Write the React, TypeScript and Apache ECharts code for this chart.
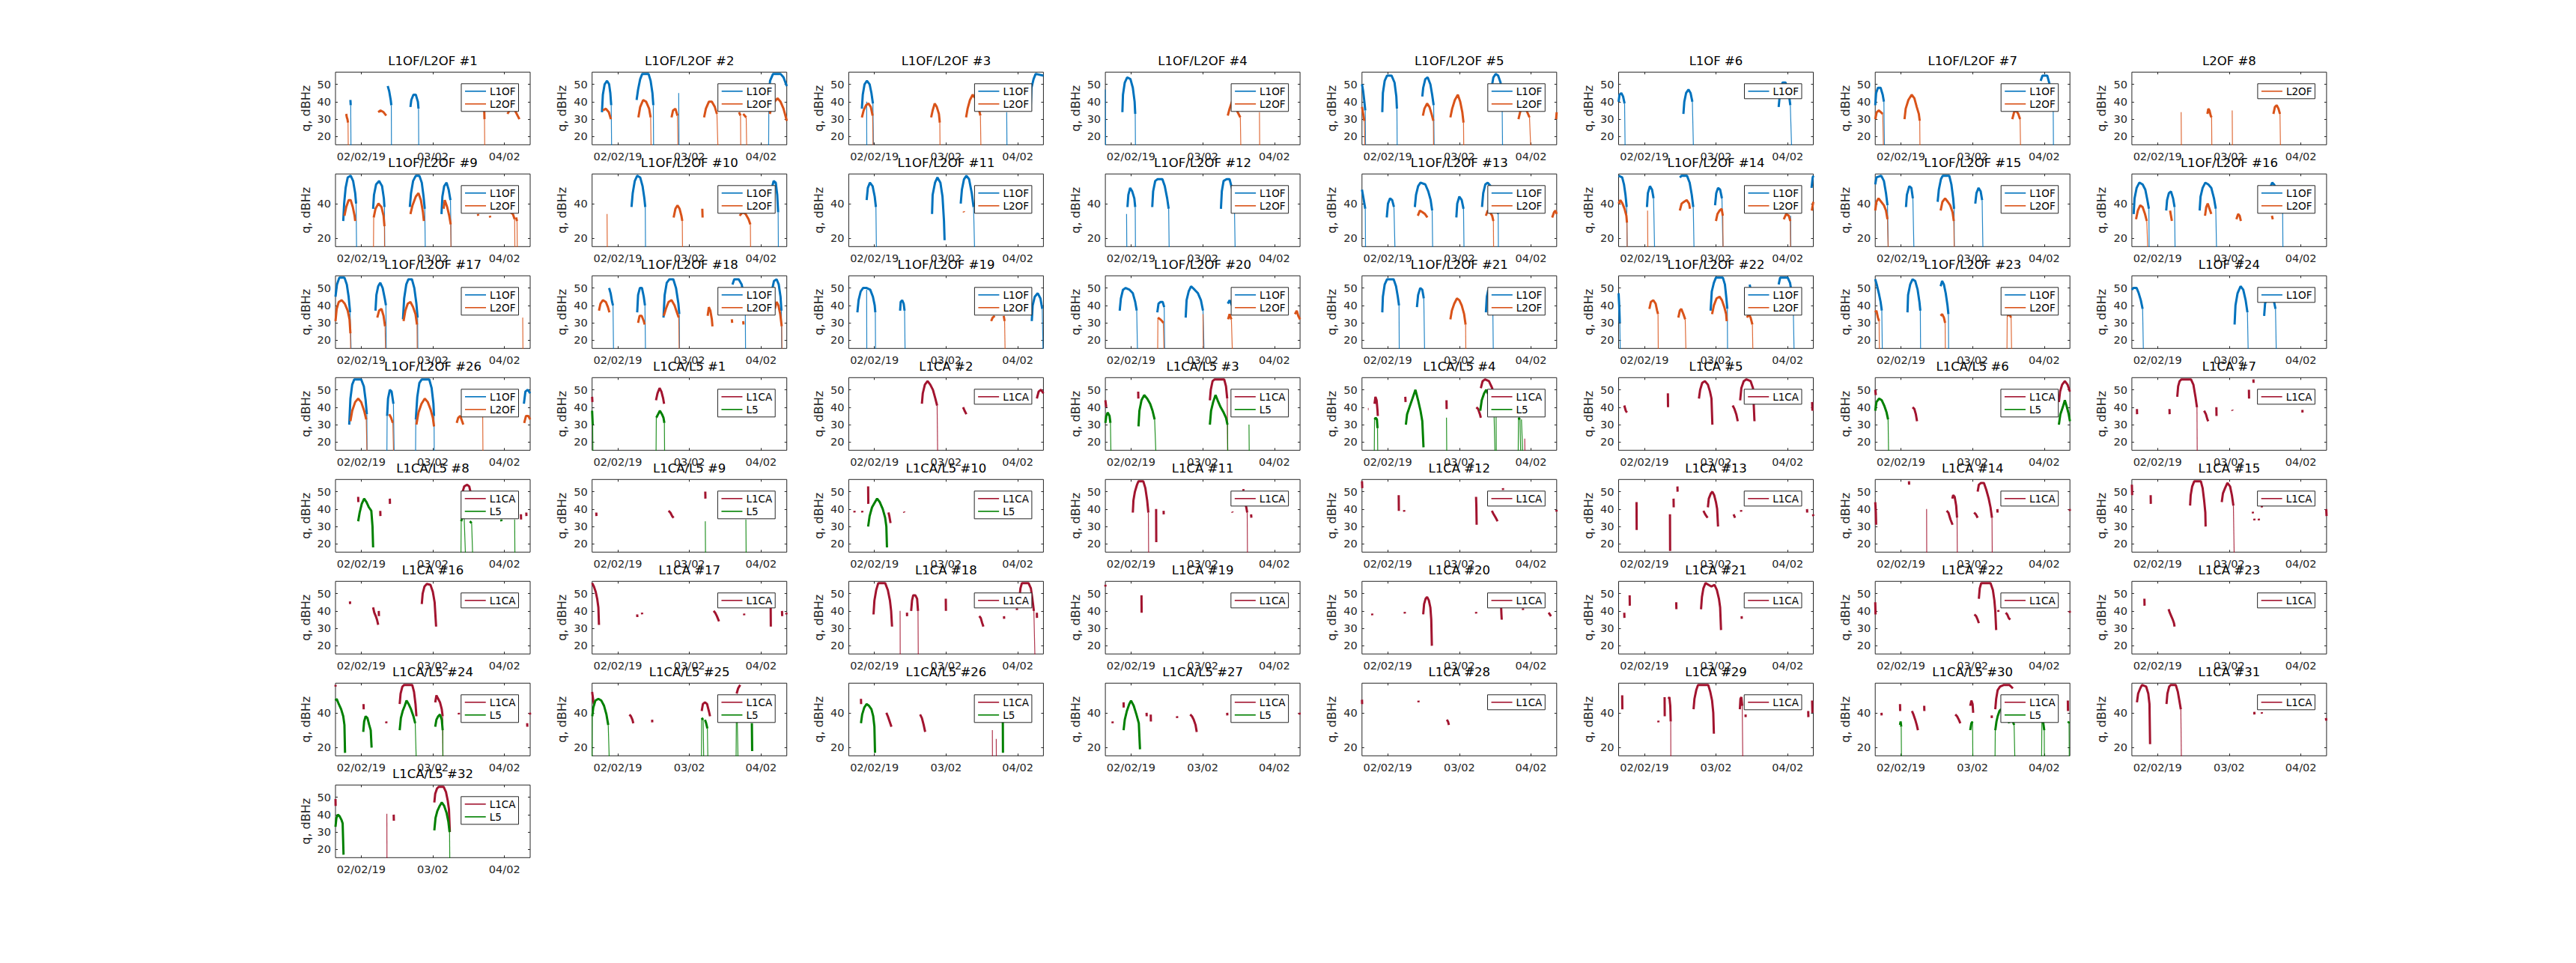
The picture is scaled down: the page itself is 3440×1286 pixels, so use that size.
import React, { useEffect, useRef } from 'react';
import * as echarts from 'echarts';

type Pt = [number, number];
type Seg = Pt[];

// ---------- axes (hours relative to 02/02/19 00:00, dBHz) ----------
const X_MIN = -8.6;
const X_MAX = 56.6;
const X_TICKS = [0, 24, 48];
const X_LABELS = ['02/02/19', '03/02', '04/02'];
const Y_MIN = 15.3;
const Y_MAX = 57;
const Y_TICKS_A = [20, 30, 40, 50];
const Y_TICKS_B = [20, 40];

// ---------- GLONASS ----------
const R1_L1: Seg[] = [
  [[-3.6, 41], [-3.5, 38], [-3.4, 10]],
  [[8.9, 49], [9.4, 46], [9.9, 41], [10.1, 38], [10.15, 10]],
  [[16.5, 37], [16.8, 41], [17.5, 44], [18.3, 44], [19.0, 40], [19.2, 36], [19.3, 10]],
];
const R1_L2: Seg[] = [
  [[-5.0, 33], [-4.8, 31], [-4.6, 30], [-4.4, 28], [-4.3, 10]],
  [[5.7, 34], [6.5, 35], [7.5, 34], [8.4, 32]],
  [[41.2, 36], [41.3, 30], [41.4, 10]],
  [[49.0, 33], [50, 36], [51.5, 35], [53.0, 30]],
];
const R2_L1: Seg[] = [
  [[-5.3, 34], [-5.0, 44], [-4.4, 50], [-3.6, 52], [-2.9, 50], [-2.5, 45], [-2.2, 38], [-2.05, 10]],
  [[6.3, 41], [6.8, 47], [7.5, 53], [8.2, 56], [10.3, 56], [11.0, 52], [11.6, 45], [11.9, 38], [12.0, 10]],
  [[20.4, 45], [20.5, 10]],
  [[50.5, 10], [50.6, 44], [51.0, 52], [52.0, 56], [54.5, 56], [55.5, 54], [56.6, 49]],
];
const R2_L2: Seg[] = [
  [[-5.0, 35], [-4.0, 36], [-3.0, 34], [-2.3, 30]],
  [[6.9, 31], [7.5, 37], [8.5, 41], [9.5, 40], [10.5, 36], [11.0, 31], [11.2, 10]],
  [[18.0, 31], [18.5, 35], [19.3, 36], [20.0, 32], [20.2, 10]],
  [[28.9, 31], [29.5, 36], [30.5, 40], [31.5, 40], [32.5, 37], [33.2, 33], [33.6, 10]],
  [[40.6, 34], [41.1, 32], [41.2, 10]],
  [[42.0, 33], [43.0, 31], [43.2, 10]],
  [[50.9, 33], [51.5, 37], [52.5, 40], [53.5, 42], [54.5, 40], [55.5, 36], [56.3, 31], [56.6, 29]],
];
const R3_L1: Seg[] = [
  [[-4.2, 36], [-3.9, 44], [-3.3, 50], [-2.5, 52], [-1.6, 50], [-1.0, 45], [-0.5, 39], [-0.3, 10]],
  [[-2.6, 40], [-2.55, 10]],
  [[44.3, 34], [44.4, 10]],
  [[52.3, 35], [52.6, 48], [53.3, 53], [54.0, 56], [56.6, 55]],
];
const R3_L2: Seg[] = [
  [[-4.2, 31], [-3.6, 35], [-2.8, 38], [-2.0, 39], [-1.2, 37], [-0.6, 32], [-0.4, 10]],
  [[19.0, 31], [19.5, 35], [20.2, 39], [20.9, 37], [21.6, 33], [21.9, 28], [22.0, 10]],
  [[30.7, 31], [31.2, 36], [32.0, 41], [32.9, 44], [33.8, 42], [34.8, 37], [35.5, 32], [35.7, 10]],
];
const R4_L1: Seg[] = [
  [[-8.6, 47], [-8.5, 10]],
  [[-2.9, 34], [-2.7, 44], [-2.1, 51], [-1.3, 54], [-0.2, 53], [0.6, 48], [1.2, 40], [1.4, 33], [1.5, 10]],
];
const R4_L2: Seg[] = [
  [[32.4, 32], [33.0, 36], [33.8, 40], [34.8, 38], [35.7, 34], [36.6, 31], [36.8, 10]],
  [[43.0, 34], [43.1, 10]],
];
const R5_L1: Seg[] = [
  [[-8.6, 50], [-8.2, 46], [-7.8, 40], [-7.5, 35], [-7.4, 10]],
  [[-1.8, 34], [-1.6, 45], [-1.0, 52], [-0.2, 55], [1.3, 55], [2.3, 51], [2.9, 43], [3.1, 36], [3.2, 10]],
  [[11.6, 43], [11.9, 48], [12.6, 53], [13.4, 54], [14.3, 50], [14.9, 44], [15.4, 38], [15.6, 10]],
  [[34.9, 49], [35.4, 54], [36.2, 56], [37.0, 55], [37.8, 51], [38.3, 45], [38.5, 10]],
];
const R5_L2: Seg[] = [
  [[-8.6, 37], [-8.2, 33], [-7.8, 29], [-7.6, 10]],
  [[11.8, 32], [12.3, 36], [13.2, 39], [14.0, 37], [14.7, 33], [15.3, 29], [15.4, 10]],
  [[21.0, 31], [21.6, 36], [22.5, 41], [23.5, 44], [24.3, 40], [25.0, 34], [25.4, 28], [25.5, 10]],
  [[43.8, 30], [44.5, 35], [45.5, 36], [46.5, 35], [47.5, 31], [48.0, 10]],
  [[56.4, 30], [56.6, 34]],
];
const R6_L1: Seg[] = [
  [[-8.6, 40], [-8.3, 44], [-7.7, 45], [-7.1, 43], [-6.6, 39], [-6.4, 10]],
  [[13.1, 33], [13.4, 40], [14.0, 45], [14.8, 47], [15.5, 45], [16.1, 40], [16.5, 10]],
  [[45.0, 37], [45.5, 46], [46.3, 51], [47.3, 51], [48.3, 46], [48.9, 38], [49.4, 10]],
];
const R7_L1: Seg[] = [
  [[-8.6, 38], [-8.3, 45], [-7.7, 48], [-6.8, 48], [-6.1, 44], [-5.7, 40], [-5.5, 10]],
  [[46.8, 52], [47.4, 55], [49.0, 55], [49.8, 50], [50.5, 42], [51.0, 35], [51.1, 10]],
];
const R7_L2: Seg[] = [
  [[-8.6, 30], [-8.1, 34], [-7.4, 35], [-6.7, 34], [-6.1, 33], [-5.8, 10]],
  [[1.2, 30], [1.6, 36], [2.5, 41], [3.6, 44], [4.5, 42], [5.3, 37], [6.0, 33], [6.3, 29], [6.4, 10]],
  [[37.3, 30], [37.9, 34], [38.6, 35], [39.3, 33], [39.9, 30], [40.1, 10]],
];
const R8_L2: Seg[] = [
  [[7.9, 34], [8.0, 10]],
  [[16.7, 33], [17.0, 36], [17.4, 35], [17.8, 32], [18.1, 31], [18.2, 10]],
  [[25.0, 35], [25.1, 10]],
  [[38.8, 33], [39.3, 37], [39.9, 38], [40.5, 36], [41.0, 33], [41.2, 10]],
];
const R9_L1: Seg[] = [
  [[-6.0, 30], [-5.7, 40], [-5.2, 49], [-4.5, 55], [-3.5, 56], [-2.7, 53], [-2.0, 46], [-1.7, 40], [-1.5, 10]],
  [[4.0, 37], [4.3, 45], [5.0, 51], [6.0, 53], [7.0, 50], [7.6, 43], [7.8, 38], [7.9, 10]],
  [[16.3, 38], [16.7, 46], [17.4, 53], [18.3, 56], [19.5, 56], [20.3, 52], [20.9, 44], [21.3, 37], [21.5, 10]],
  [[26.9, 34], [27.2, 44], [27.8, 50], [28.6, 52], [29.3, 48], [29.9, 42], [30.2, 10]],
];
const R9_L2: Seg[] = [
  [[-5.6, 33], [-5.0, 38], [-4.2, 42], [-3.5, 42], [-2.8, 38], [-2.2, 33], [-2.0, 30]],
  [[4.1, 10], [4.2, 32], [4.8, 37], [5.8, 40], [6.8, 38], [7.5, 33], [7.8, 27], [7.85, 10]],
  [[16.5, 34], [17.2, 39], [18.3, 44], [19.2, 46], [20.0, 42], [20.7, 35], [21.0, 30]],
  [[27.6, 37], [28.0, 42], [28.8, 38], [29.5, 33], [30.0, 28], [30.1, 10]],
  [[39.1, 34], [39.2, 33]],
  [[43.1, 33], [43.2, 32]],
  [[50.0, 35], [50.8, 34], [51.4, 31], [51.5, 10]],
  [[51.9, 32], [52.2, 30], [52.3, 10]],
];
const R10_L1: Seg[] = [
  [[4.6, 38], [5.0, 46], [5.7, 53], [6.5, 56], [7.5, 55], [8.3, 50], [8.9, 43], [9.2, 38], [9.3, 10]],
  [[51.6, 49], [52.2, 53], [52.9, 52], [53.4, 45], [53.7, 35], [53.8, 10]],
];
const R10_L2: Seg[] = [
  [[-3.6, 34], [-3.5, 10]],
  [[18.7, 32], [19.3, 37], [20.0, 39], [20.7, 37], [21.3, 33], [21.6, 30], [21.7, 10]],
  [[28.3, 37], [28.4, 32]],
  [[40.8, 33], [41.8, 35], [42.8, 34], [43.8, 31], [44.4, 28], [44.5, 10]],
];
const R11_L1: Seg[] = [
  [[-2.6, 42], [-2.2, 49], [-1.5, 52], [-0.6, 50], [0.1, 44], [0.5, 38], [0.7, 10]],
  [[19.3, 34], [19.5, 45], [20.3, 52], [21.1, 55], [22.1, 52], [22.8, 44], [23.3, 30], [23.5, 19]],
  [[28.9, 40], [29.3, 48], [30.0, 54], [30.8, 56], [31.7, 54], [32.6, 46], [33.2, 38], [33.6, 10]],
];
const R11_L2: Seg[] = [[[29.9, 35.5], [30.0, 35]]];
const R12_L1: Seg[] = [
  [[-1.5, 34], [-1.4, 10]],
  [[-1.2, 38], [-0.9, 45], [-0.3, 49], [0.4, 47], [1.1, 43], [1.4, 38], [1.5, 10]],
  [[7.1, 38], [7.4, 47], [8.1, 53], [8.9, 54], [10.5, 54], [11.3, 50], [12.1, 43], [12.6, 37], [12.8, 10]],
  [[30.1, 37], [30.4, 47], [31.0, 53], [32.0, 54], [33.0, 54], [33.9, 48], [34.6, 40], [34.9, 10]],
];
const R12_L2: Seg[] = [];
const R13_L1: Seg[] = [
  [[-8.6, 48], [-8.2, 44], [-7.8, 40], [-7.5, 37], [-7.4, 10]],
  [[-0.3, 32], [0.1, 40], [0.8, 43], [1.5, 42], [2.1, 38], [2.5, 10]],
  [[9.1, 38], [9.5, 45], [10.2, 50], [11.0, 52], [12.6, 51], [13.6, 47], [14.4, 42], [14.9, 36], [15.1, 10]],
  [[23.0, 32], [23.3, 40], [24.0, 44], [24.8, 42], [25.4, 37], [25.6, 10]],
  [[31.6, 38], [32.0, 46], [32.7, 51], [33.5, 52], [34.5, 50], [35.5, 46], [36.5, 38], [37.0, 34], [37.1, 10]],
];
const R13_L2: Seg[] = [
  [[10.1, 33], [10.8, 36], [11.7, 35], [12.5, 34], [13.3, 32]],
  [[32.9, 33], [33.5, 36], [34.3, 35], [35.0, 33], [35.4, 30], [35.5, 10]],
  [[55.1, 32], [55.7, 35], [56.2, 36], [56.6, 34]],
];
const R14_L1: Seg[] = [
  [[-8.6, 56], [-7.4, 55], [-6.8, 51], [-6.3, 45], [-5.9, 38], [-5.7, 10]],
  [[0.9, 38], [1.2, 46], [1.9, 50], [2.6, 48], [3.1, 43], [3.5, 10]],
  [[11.9, 55], [12.5, 56], [14.3, 56], [15.2, 52], [15.9, 45], [16.4, 38], [16.7, 10]],
  [[23.7, 39], [24.1, 46], [24.7, 49], [25.4, 48], [26.0, 43], [26.4, 10]],
  [[49.0, 33], [49.1, 10]],
  [[56.0, 49], [56.4, 55], [56.6, 56]],
];
const R14_L2: Seg[] = [
  [[-8.6, 40], [-8.0, 42], [-7.3, 40], [-6.6, 37], [-6.0, 33], [-5.8, 29], [-5.7, 10]],
  [[1.1, 36], [1.2, 10]],
  [[11.9, 36], [12.5, 40], [13.3, 41], [14.2, 42], [15.0, 40], [15.3, 37]],
  [[24.0, 30], [24.5, 34], [25.2, 36], [25.9, 37], [26.3, 33], [26.4, 10]],
  [[46.7, 31], [47.5, 34], [48.4, 33], [48.9, 30], [49.0, 10]],
  [[56.1, 36], [56.6, 41]],
];
const R15_L1: Seg[] = [
  [[-8.6, 51], [-8.2, 55], [-6.6, 56], [-5.7, 53], [-5.0, 46], [-4.5, 39], [-4.2, 10]],
  [[1.7, 38], [2.0, 45], [2.8, 50], [3.5, 49], [4.0, 43], [4.4, 10]],
  [[12.3, 41], [12.7, 48], [13.4, 54], [14.0, 56], [16.2, 56], [16.9, 51], [17.5, 43], [17.8, 37], [17.9, 10]],
  [[24.9, 40], [25.3, 46], [26.0, 49], [26.7, 47], [27.2, 42], [27.5, 10]],
];
const R15_L2: Seg[] = [
  [[-8.6, 36], [-8.2, 41], [-7.5, 43], [-6.6, 41], [-5.7, 39], [-5.0, 36], [-4.5, 31], [-4.2, 10]],
  [[13.3, 36], [13.9, 41], [14.8, 43], [15.7, 41], [16.5, 39], [17.3, 35], [17.7, 30], [17.9, 10]],
];
const R16_L1: Seg[] = [
  [[-8.0, 34], [-7.7, 43], [-7.0, 49], [-6.1, 52], [-5.0, 51], [-4.1, 48], [-3.4, 42], [-2.9, 37], [-2.8, 10]],
  [[2.9, 36], [3.2, 42], [3.8, 46], [4.5, 47], [5.2, 43], [5.7, 38], [5.9, 10]],
  [[14.1, 36], [14.4, 44], [15.1, 49], [16.0, 52], [17.0, 51], [18.0, 49], [18.9, 43], [19.5, 37], [19.8, 10]],
  [[37.9, 50], [38.4, 52], [39.0, 51], [40.0, 48], [41.0, 44], [41.6, 40], [41.9, 35], [42.0, 10]],
];
const R16_L2: Seg[] = [
  [[-7.2, 31], [-6.6, 36], [-5.8, 39], [-5.0, 38], [-4.2, 34], [-3.6, 30], [-3.2, 10]],
  [[4.2, 36], [4.5, 33], [4.8, 30]],
  [[15.9, 33], [16.3, 38], [16.8, 40], [17.4, 37], [18.0, 34]],
  [[26.4, 31], [27.0, 34], [27.5, 33], [27.9, 30]],
  [[38.3, 33], [38.6, 31]],
];
const R17_L1: Seg[] = [
  [[-8.6, 45], [-8.1, 52], [-7.3, 56], [-5.6, 56], [-4.8, 52], [-4.2, 45], [-3.7, 36], [-3.3, 10]],
  [[4.8, 37], [5.1, 46], [5.7, 51], [6.4, 53], [7.2, 50], [7.9, 44], [8.3, 40], [8.4, 10]],
  [[14.0, 32], [14.4, 44], [15.1, 52], [15.8, 55], [17.0, 55], [17.8, 50], [18.5, 41], [18.9, 33], [19.0, 10]],
];
const R17_L2: Seg[] = [
  [[-8.6, 31], [-8.2, 38], [-7.5, 42], [-6.5, 43], [-5.5, 41], [-4.5, 37], [-3.9, 32], [-3.6, 24], [-3.5, 10]],
  [[5.4, 33], [6.0, 37], [6.8, 38], [7.5, 34], [8.0, 28], [8.2, 10]],
  [[14.2, 31], [14.8, 37], [15.6, 41], [16.5, 42], [17.4, 39], [18.2, 35], [18.7, 29], [18.8, 10]],
  [[54.1, 33], [54.2, 10]],
];
const R18_L1: Seg[] = [
  [[-2.9, 50], [-2.4, 47], [-1.9, 42], [-1.6, 40], [-1.4, 10]],
  [[6.5, 36], [6.8, 46], [7.4, 50], [8.1, 50], [8.7, 45], [9.1, 40], [9.3, 10]],
  [[15.3, 33], [15.7, 46], [16.4, 53], [17.3, 55], [18.6, 55], [19.5, 50], [20.3, 41], [20.6, 35], [20.7, 10]],
  [[38.4, 52], [39.0, 55], [40.5, 55], [41.5, 52], [42.3, 45], [42.7, 38], [42.8, 10]],
  [[51.8, 50], [52.3, 54], [53.2, 55], [53.9, 52], [54.5, 45], [54.8, 37], [54.9, 10]],
];
const R18_L2: Seg[] = [
  [[-6.3, 37], [-5.8, 41], [-5.0, 43], [-4.0, 42], [-3.3, 39], [-2.8, 36]],
  [[6.8, 30], [7.3, 34], [8.0, 34], [8.7, 31], [9.0, 29]],
  [[15.4, 34], [16.1, 38], [17.0, 42], [18.0, 43], [19.0, 40], [19.8, 36], [20.4, 33], [20.6, 10]],
  [[30.1, 34], [30.5, 39], [31.0, 37], [31.5, 32], [31.7, 28]],
  [[38.2, 32], [38.3, 30]],
  [[42.0, 31], [42.1, 29]],
  [[52.6, 38], [53.2, 42], [53.8, 40], [54.4, 35], [54.9, 28], [55.0, 10]],
];
const R19_L1: Seg[] = [
  [[-5.7, 36], [-5.3, 43], [-4.6, 48], [-3.8, 50], [-2.6, 50], [-1.4, 49], [-0.5, 45], [0.1, 40], [0.3, 36], [0.4, 10]],
  [[-2.6, 49], [-2.55, 10]],
  [[8.6, 37], [8.8, 42], [9.3, 43], [9.8, 41], [10.1, 37], [10.3, 10]],
  [[52.7, 31], [53.0, 40], [53.7, 45], [54.7, 47], [55.6, 44], [56.2, 38], [56.5, 10]],
];
const R19_L2: Seg[] = [
  [[39.1, 31], [39.6, 33], [40.3, 34]],
  [[43.3, 34], [43.6, 31], [43.8, 10]],
];
const R20_L1: Seg[] = [
  [[-3.8, 37], [-3.4, 44], [-2.7, 49], [-1.8, 50], [-0.5, 49], [0.6, 47], [1.4, 42], [1.9, 37], [2.2, 10]],
  [[8.8, 36], [9.2, 41], [9.9, 42], [10.6, 42], [11.1, 39], [11.3, 10]],
  [[18.3, 33], [18.6, 43], [19.3, 48], [20.1, 51], [21.3, 49], [22.4, 47], [23.4, 43], [24.1, 37], [24.5, 10]],
  [[32.4, 41], [33.0, 43], [33.8, 40]],
];
const R20_L2: Seg[] = [
  [[8.9, 10], [9.0, 33], [9.8, 32], [10.4, 31], [10.8, 30], [11.1, 10]],
  [[24.1, 35], [24.2, 10]],
  [[32.5, 32], [33.0, 35], [33.6, 32], [34.0, 10]],
  [[54.9, 35], [55.5, 37], [56.0, 34], [56.6, 32]],
];
const R21_L1: Seg[] = [
  [[-1.8, 36], [-1.6, 45], [-1.0, 52], [-0.2, 55], [2.0, 55], [2.8, 51], [3.4, 45], [3.8, 40], [3.9, 10]],
  [[9.8, 39], [10.2, 46], [10.9, 50], [11.6, 49], [12.1, 44], [12.4, 10]],
  [[32.9, 36], [33.2, 45], [33.7, 49], [34.5, 47], [35.2, 40], [35.4, 10]],
];
const R21_L2: Seg[] = [
  [[21.0, 32], [21.5, 37], [22.3, 41], [23.2, 44], [24.0, 43], [24.8, 40], [25.6, 35], [26.1, 29], [26.2, 10]],
];
const R22_L1: Seg[] = [
  [[-8.6, 47], [-8.4, 40], [-8.2, 30], [-8.0, 10]],
  [[22.2, 37], [22.6, 48], [23.3, 53], [24.0, 56], [26.3, 56], [27.0, 52], [27.5, 44], [27.8, 38], [27.9, 10]],
  [[35.3, 52], [35.5, 50]],
  [[45.0, 52], [45.5, 56], [48.0, 56], [48.8, 53], [49.5, 46], [49.9, 38], [50.2, 10]],
];
const R22_L2: Seg[] = [
  [[1.7, 38], [2.2, 42], [3.0, 43], [3.8, 41], [4.3, 37], [4.6, 35], [4.7, 10]],
  [[11.4, 33], [11.9, 37], [12.4, 38], [13.1, 35], [13.7, 32], [14.0, 10]],
  [[22.7, 35], [23.3, 40], [24.2, 44], [25.2, 45], [26.0, 43], [26.8, 39], [27.4, 35], [27.6, 31]],
  [[34.4, 33], [35.0, 35], [35.6, 33], [36.2, 29], [36.4, 10]],
];
const R23_L1: Seg[] = [
  [[-8.6, 55], [-8.1, 52], [-7.4, 47], [-6.8, 42], [-6.4, 37], [-6.2, 10]],
  [[2.2, 36], [2.4, 46], [3.1, 52], [3.9, 55], [4.8, 54], [5.6, 49], [6.2, 42], [6.5, 37], [6.6, 10]],
  [[13.3, 51], [13.8, 54], [14.4, 52], [15.0, 47], [15.6, 40], [15.9, 35], [16.0, 10]],
];
const R23_L2: Seg[] = [
  [[-8.6, 36], [-8.2, 37], [-7.7, 33], [-7.3, 31], [-7.2, 10]],
  [[13.3, 34], [13.8, 35], [14.4, 33], [14.8, 30], [14.9, 10]],
  [[35.5, 10], [35.6, 34], [36.3, 35], [36.9, 33], [37.1, 10]],
];
const R24_L1: Seg[] = [
  [[-8.6, 49], [-8.1, 50], [-7.0, 50], [-6.3, 47], [-5.6, 43], [-5.0, 38], [-4.7, 10]],
  [[25.8, 29], [26.1, 40], [26.8, 47], [27.8, 51], [28.7, 49], [29.5, 43], [30.1, 36], [30.4, 10]],
  [[35.7, 34], [36.0, 41], [36.8, 45], [37.8, 46], [38.8, 44], [39.5, 38], [39.8, 10]],
];
const R26_L1: Seg[] = [
  [[-4.0, 30], [-3.6, 45], [-3.0, 53], [-2.3, 56], [0.0, 56], [0.9, 52], [1.5, 44], [1.9, 36], [2.0, 10]],
  [[8.6, 10], [8.7, 35], [9.0, 45], [9.6, 50], [10.2, 49], [10.8, 42], [11.1, 10]],
  [[18.2, 10], [18.3, 33], [18.8, 46], [19.5, 54], [20.3, 56], [22.8, 56], [23.6, 51], [24.2, 42], [24.4, 35], [24.5, 10]],
  [[54.5, 42], [55.0, 49], [55.8, 50], [56.6, 48]],
];
const R26_L2: Seg[] = [
  [[-3.6, 32], [-3.0, 38], [-2.0, 43], [-1.0, 45], [0.0, 43], [1.0, 38], [1.7, 33], [2.0, 10]],
  [[9.4, 36], [10.0, 34], [10.6, 31], [10.9, 10]],
  [[18.5, 30], [19.2, 37], [20.2, 42], [21.3, 45], [22.3, 43], [23.2, 39], [24.0, 34], [24.4, 29]],
  [[32.0, 31], [32.5, 34], [33.2, 35], [33.8, 32], [34.2, 30]],
  [[40.7, 35], [40.8, 10]],
  [[54.6, 31], [55.2, 35], [56.0, 35], [56.6, 33]],
];

// ---------- GPS ----------
const G1_CA: Seg[] = [
  [[-8.6, 46], [-8.5, 43]],
  [[12.8, 44], [13.3, 48], [14.0, 51], [14.6, 49], [15.2, 45], [15.5, 42]],
];
const G1_L5: Seg[] = [
  [[-8.6, 38], [-8.4, 30], [-8.3, 10]],
  [[12.8, 10], [12.9, 34], [13.5, 36], [14.1, 38], [14.8, 36], [15.3, 34], [15.6, 31], [15.7, 10]],
];
const G2_CA: Seg[] = [
  [[15.9, 42], [16.2, 48], [16.9, 53], [17.8, 55], [18.7, 53], [19.6, 50], [20.4, 45], [21.0, 41], [21.2, 10]],
  [[29.7, 40], [30.2, 38], [30.8, 36]],
  [[54.4, 45], [55.0, 49], [55.8, 50], [56.6, 48]],
];
const G3_CA: Seg[] = [
  [[-8.6, 44], [-8.3, 40]],
  [[2.4, 49], [2.45, 45]],
  [[26.4, 44], [26.7, 50], [27.3, 55], [28.0, 56], [31.2, 56], [31.8, 52], [32.2, 45], [32.4, 10]],
];
const G3_L5: Seg[] = [
  [[-8.6, 31], [-8.3, 35], [-7.8, 37], [-7.2, 35], [-6.9, 31], [-6.7, 10]],
  [[2.5, 29], [2.8, 38], [3.5, 44], [4.4, 47], [5.4, 45], [6.4, 42], [7.2, 38], [7.9, 33], [8.4, 10]],
  [[26.4, 30], [26.8, 38], [27.5, 43], [28.3, 47], [29.0, 44], [30.0, 40], [31.0, 37], [31.8, 34], [32.3, 30], [32.4, 10]],
  [[39.5, 30], [39.6, 10]],
];
const G4_CA: Seg[] = [
  [[-6.6, 39], [-6.4, 39]],
  [[-4.4, 42], [-4.1, 46], [-3.7, 44], [-3.4, 38], [-3.3, 35]],
  [[5.9, 46], [6.0, 43]],
  [[19.7, 44], [19.75, 39]],
  [[29.7, 40], [30.3, 39], [30.9, 36], [31.2, 34]],
  [[31.2, 51], [31.8, 55], [32.6, 56], [33.9, 55], [35.0, 51], [35.6, 47]],
  [[45.9, 22], [46.0, 10]],
];
const G4_L5: Seg[] = [
  [[-4.5, 10], [-4.4, 33], [-4.0, 34], [-3.6, 33], [-3.4, 28], [-3.3, 10]],
  [[6.1, 30], [6.5, 36], [7.3, 40], [8.3, 45], [9.3, 50], [10.2, 44], [11.0, 38], [11.6, 32], [12.0, 17]],
  [[19.7, 34], [19.8, 10]],
  [[31.0, 38], [31.5, 44], [32.3, 48], [33.0, 50], [33.8, 47], [34.8, 42], [35.6, 38], [36.0, 10]],
  [[36.3, 36], [36.4, 10]],
  [[43.7, 10], [43.8, 34], [44.3, 33], [44.6, 10]],
  [[44.8, 33], [45.3, 10]],
];
const G5_CA: Seg[] = [
  [[-6.7, 41], [-6.2, 38], [-5.8, 37]],
  [[7.9, 48], [7.95, 40]],
  [[18.3, 45], [18.7, 50], [19.4, 54], [20.3, 55], [21.3, 53], [22.0, 49], [22.5, 45], [22.8, 30]],
  [[29.6, 41], [30.2, 39], [30.8, 36], [31.3, 32]],
  [[32.1, 44], [32.5, 51], [33.3, 55], [34.2, 56], [35.6, 55], [36.4, 51], [36.9, 32]],
  [[56.2, 43], [56.3, 38]],
];
const G6_CA: Seg[] = [
  [[-8.6, 50], [-8.4, 47]],
  [[3.9, 40], [4.5, 39], [5.0, 36], [5.4, 32]],
  [[52.9, 43], [53.3, 49], [54.0, 53], [54.9, 55], [55.8, 53], [56.6, 49]],
];
const G6_L5: Seg[] = [
  [[-8.6, 38], [-8.2, 43], [-7.3, 45], [-6.4, 44], [-5.6, 41], [-4.8, 37], [-4.3, 33], [-4.1, 10]],
  [[52.9, 30], [53.4, 36], [54.2, 40], [54.9, 44], [55.6, 40], [56.2, 36], [56.6, 32]],
];
const G7_CA: Seg[] = [
  [[-6.9, 39], [-6.85, 36]],
  [[4.0, 39], [4.05, 36]],
  [[6.6, 46], [6.9, 52], [7.4, 55], [8.0, 56], [11.2, 56], [12.0, 53], [12.7, 46], [13.2, 40], [13.3, 10]],
  [[15.6, 38], [16.2, 36], [16.7, 33], [17.0, 32]],
  [[19.7, 40], [19.75, 35]],
  [[25.0, 38.5], [25.1, 38]],
  [[30.6, 50], [30.65, 45]],
  [[32.1, 56], [32.15, 54]],
  [[48.5, 38.5], [48.55, 37]],
];
const G8_CA: Seg[] = [
  [[-1.0, 47], [-0.95, 44]],
  [[6.4, 39], [6.45, 36]],
  [[9.6, 46], [9.65, 43]],
  [[34.0, 50], [34.5, 53], [35.5, 54], [36.2, 53], [36.6, 50]],
  [[53.5, 37], [53.55, 34]],
  [[55.3, 38], [55.35, 36]],
];
const G8_L5: Seg[] = [
  [[-1.0, 33], [-0.5, 38], [0.2, 43], [1.0, 46], [1.8, 44], [2.6, 41], [3.4, 39], [3.8, 30], [4.0, 18]],
  [[33.4, 10], [33.5, 33], [34.0, 36], [34.5, 35], [35.0, 10]],
  [[36.4, 33], [37.0, 32], [37.4, 10]],
  [[46.9, 34], [47.0, 33]],
  [[51.4, 34], [51.5, 10]],
];
const G9_CA: Seg[] = [
  [[-7.2, 38], [-7.15, 36]],
  [[17.0, 39], [17.6, 38], [18.2, 36], [18.7, 35]],
  [[29.3, 50], [29.35, 46]],
];
const G9_L5: Seg[] = [
  [[29.3, 33], [29.4, 10]],
  [[42.9, 34], [43.0, 10]],
];
const G10_CA: Seg[] = [
  [[-6.7, 39], [-6.65, 38]],
  [[-4.1, 39], [-4.05, 38]],
  [[-2.1, 53], [-2.05, 43]],
  [[4.7, 38], [5.0, 36], [5.4, 32]],
  [[9.9, 38.5], [10.0, 38]],
];
const G10_L5: Seg[] = [
  [[-2.1, 30], [-1.6, 36], [-0.8, 41], [0.2, 44], [0.9, 46], [1.8, 44], [2.8, 40], [3.6, 35], [4.0, 30], [4.2, 18]],
];
const G11_CA: Seg[] = [
  [[0.6, 38], [0.8, 45], [1.3, 50], [2.0, 54], [2.5, 56], [4.1, 56], [4.8, 52], [5.4, 45], [5.8, 38], [5.9, 10]],
  [[8.4, 40], [8.45, 21]],
  [[10.9, 39], [10.95, 37]],
  [[33.9, 38.5], [34.0, 38]],
  [[37.6, 51.5], [37.65, 50.5]],
  [[38.3, 43], [38.6, 41], [38.9, 38], [39.0, 10]],
  [[40.2, 37], [40.3, 35]],
];
const G12_CA: Seg[] = [
  [[-8.6, 56], [-8.5, 52]],
  [[3.7, 48], [3.75, 39]],
  [[5.5, 39.5], [5.55, 38.5]],
  [[29.6, 47], [29.7, 42], [29.8, 31]],
  [[34.9, 39], [35.5, 37], [36.2, 35], [36.8, 33]],
  [[38.6, 52], [38.65, 51]],
  [[56.5, 39.5], [56.6, 38.5]],
];
const G13_CA: Seg[] = [
  [[-2.6, 44], [-2.55, 28]],
  [[8.6, 37], [8.65, 16]],
  [[9.8, 46], [9.85, 41]],
  [[11.1, 53], [11.15, 50]],
  [[19.8, 39], [20.4, 37], [21.2, 35]],
  [[21.3, 41], [21.6, 46], [22.3, 49], [22.8, 50], [23.4, 48], [24.0, 44], [24.4, 40], [24.7, 30]],
  [[29.9, 37], [30.4, 35]],
  [[32.4, 39.5], [32.45, 38.5]],
  [[54.5, 40], [54.55, 38]],
  [[56.5, 37], [56.6, 36]],
];
const G14_CA: Seg[] = [
  [[-8.6, 44], [-8.4, 38], [-8.3, 31]],
  [[2.7, 56], [2.75, 54]],
  [[8.6, 40], [8.65, 10]],
  [[15.3, 39], [15.9, 38], [16.6, 34], [17.3, 31]],
  [[17.2, 46], [17.5, 48], [18.0, 47], [18.5, 42], [18.8, 35], [18.9, 10]],
  [[24.5, 38], [25.1, 37], [25.7, 35]],
  [[25.7, 50], [26.1, 54], [26.8, 55], [27.8, 55], [28.6, 51], [29.4, 46], [30.0, 41], [30.5, 35], [30.6, 10]],
  [[32.3, 40], [32.35, 38]],
  [[56.5, 40], [56.6, 39]],
];
const G15_CA: Seg[] = [
  [[-8.6, 54], [-8.5, 48]],
  [[-2.3, 48], [-2.25, 43]],
  [[10.9, 42], [11.1, 48], [11.6, 53], [12.3, 56], [14.5, 56], [15.1, 52], [15.6, 45], [16.0, 38], [16.1, 30]],
  [[21.5, 44], [21.9, 49], [22.6, 52], [23.4, 55], [24.3, 53], [24.9, 48], [25.4, 42], [25.7, 10]],
  [[31.9, 38.5], [31.95, 37.5]],
  [[32.4, 34.5], [32.45, 33.5]],
  [[33.9, 34.5], [33.95, 33.5]],
  [[34.9, 42], [34.95, 41]],
  [[56.5, 40], [56.6, 36]],
];
const G16_CA: Seg[] = [
  [[-3.75, 45.5], [-3.7, 44]],
  [[4.0, 42], [4.4, 39], [4.9, 37], [5.3, 35], [5.7, 32]],
  [[5.9, 40], [5.95, 37]],
  [[20.3, 44], [20.6, 50], [21.2, 54], [22.0, 55.5], [23.2, 55], [24.0, 51], [24.6, 45], [25.1, 31]],
];
const G17_CA: Seg[] = [
  [[-8.6, 56], [-8.0, 54], [-7.4, 51], [-6.9, 47], [-6.5, 42], [-6.3, 32]],
  [[6.5, 38], [6.55, 36.5]],
  [[8.1, 39], [8.15, 38]],
  [[32.1, 40], [32.6, 39], [33.2, 37], [33.9, 34]],
  [[42.3, 38.5], [42.35, 37.5]],
  [[51.2, 42], [51.25, 31]],
  [[55.0, 40], [55.05, 37]],
  [[56.4, 39], [56.5, 38]],
];
const G18_CA: Seg[] = [
  [[-0.3, 38], [0.0, 46], [0.6, 52], [1.3, 56], [3.6, 56], [4.5, 52], [5.2, 46], [5.6, 40], [5.9, 31]],
  [[8.6, 40], [8.65, 10]],
  [[10.9, 39], [10.95, 37]],
  [[12.3, 40], [12.6, 46], [13.0, 49], [13.7, 49], [14.3, 47], [14.6, 40], [14.7, 10]],
  [[23.9, 47], [23.95, 40]],
  [[35.1, 37], [35.6, 36], [36.1, 33], [36.5, 31]],
  [[43.4, 37], [43.45, 35.5]],
  [[47.7, 41.5], [47.75, 40.5]],
  [[48.6, 48], [48.9, 53], [49.4, 56], [51.6, 56], [52.4, 53], [52.9, 47], [53.4, 40], [53.8, 10]],
  [[54.4, 39], [54.45, 36]],
];
const G19_CA: Seg[] = [
  [[-8.6, 55], [-8.55, 54]],
  [[3.5, 49], [3.55, 39]],
];
const G20_CA: Seg[] = [
  [[-5.2, 38.5], [-5.15, 37.5]],
  [[5.7, 39.5], [5.75, 38.5]],
  [[11.9, 38], [12.2, 44], [12.7, 47], [13.2, 48], [13.8, 46], [14.3, 42], [14.6, 35], [14.8, 20]],
  [[29.6, 39.5], [29.65, 38.5]],
  [[38.0, 42], [38.1, 38], [38.2, 35]],
  [[45.3, 41.5], [45.35, 40.5]],
  [[53.9, 39], [54.7, 37]],
];
const G21_CA: Seg[] = [
  [[-6.7, 39], [-6.65, 36]],
  [[-4.9, 49], [-4.85, 43]],
  [[10.7, 45], [10.75, 41]],
  [[19.0, 41], [19.3, 48], [19.8, 53], [20.5, 56], [21.5, 55], [22.5, 54], [23.5, 55], [24.3, 52], [25.0, 47], [25.4, 42], [25.7, 29]],
  [[32.6, 37], [32.65, 35.5]],
];
const G22_CA: Seg[] = [
  [[-8.6, 45], [-8.5, 38]],
  [[24.6, 38], [25.2, 37], [25.7, 35], [26.1, 33]],
  [[26.1, 47], [26.4, 53], [26.9, 56], [30.0, 56], [30.8, 52], [31.3, 46], [31.6, 40], [31.9, 29]],
  [[32.6, 40.5], [32.65, 39.5]],
  [[35.1, 39], [35.6, 38], [36.1, 36], [36.6, 35]],
  [[56.5, 40], [56.6, 39]],
];
const G23_CA: Seg[] = [
  [[-4.4, 47], [-4.35, 43]],
  [[3.7, 41], [4.1, 39], [4.6, 37], [5.1, 35], [5.5, 33], [5.7, 31]],
];
const G24_CA: Seg[] = [
  [[-8.6, 56], [-8.55, 55]],
  [[0.8, 45], [0.85, 42]],
  [[8.4, 35], [8.45, 34]],
  [[12.9, 45], [13.2, 51], [13.8, 55], [14.4, 56], [17.1, 56], [17.7, 52], [18.2, 45], [18.5, 38]],
  [[24.8, 46], [25.2, 50], [25.8, 48], [26.4, 46], [27.0, 42], [27.3, 38], [27.4, 10]],
  [[32.7, 40], [32.75, 39]],
  [[55.6, 34], [55.65, 32]],
  [[56.5, 40], [56.6, 39]],
];
const G24_L5: Seg[] = [
  [[-8.6, 47], [-8.2, 48], [-7.5, 45], [-6.7, 42], [-6.0, 38], [-5.6, 33], [-5.4, 17]],
  [[0.7, 29], [1.0, 35], [1.5, 38], [2.1, 37], [2.7, 33], [3.2, 30], [3.5, 20]],
  [[12.9, 30], [13.3, 37], [13.9, 41], [14.6, 44], [15.2, 47], [15.9, 45], [16.7, 42], [17.5, 38], [18.1, 34], [18.5, 10]],
  [[24.8, 32], [25.2, 36], [25.8, 38], [26.4, 39], [27.0, 36], [27.3, 30], [27.4, 10]],
];
const G25_CA: Seg[] = [
  [[-8.6, 52], [-8.2, 47], [-8.0, 45]],
  [[3.9, 39], [4.4, 38], [4.9, 36], [5.2, 34]],
  [[11.5, 36], [11.55, 34.5]],
  [[28.1, 41], [28.5, 45], [29.2, 46], [29.9, 45], [30.5, 41], [30.9, 38]],
  [[39.8, 51], [40.3, 54], [41.0, 56]],
];
const G25_L5: Seg[] = [
  [[-8.6, 10], [-8.55, 38], [-8.2, 43], [-7.5, 47], [-6.5, 48], [-5.5, 47], [-4.6, 44], [-3.8, 39], [-3.2, 33], [-2.8, 10]],
  [[28.0, 10], [28.1, 37], [28.6, 36], [28.8, 10]],
  [[29.2, 36], [29.6, 34], [30.0, 31], [30.2, 10]],
  [[39.6, 10], [39.7, 35], [40.0, 37], [40.3, 10]],
  [[44.9, 34], [45.0, 18]],
];
const G26_CA: Seg[] = [
  [[-4.5, 48], [-4.45, 45]],
  [[4.0, 40], [4.5, 38], [5.1, 35], [5.7, 32]],
  [[15.3, 39], [15.9, 37], [16.5, 33], [17.0, 29]],
  [[39.5, 30], [39.55, 10]],
  [[40.8, 25], [40.85, 10]],
];
const G26_L5: Seg[] = [
  [[-4.5, 34], [-4.1, 39], [-3.4, 43], [-2.6, 45], [-1.8, 44], [-1.0, 42], [-0.4, 38], [0.0, 32], [0.2, 17]],
  [[43.0, 35], [43.05, 17]],
];
const G27_CA: Seg[] = [
  [[-6.2, 35], [-6.15, 34]],
  [[-2.5, 46], [-2.45, 43]],
  [[5.2, 40], [5.25, 38]],
  [[6.6, 39], [6.65, 35]],
  [[15.4, 38], [15.45, 37]],
  [[19.8, 39], [20.4, 38], [21.0, 36], [21.6, 33], [22.0, 29]],
  [[32.2, 40], [32.25, 38.5]],
  [[56.4, 40], [56.5, 39]],
];
const G27_L5: Seg[] = [
  [[-2.5, 30], [-2.1, 36], [-1.4, 41], [-0.6, 45], [0.0, 47], [0.9, 44], [1.8, 39], [2.6, 34], [3.0, 19]],
];
const G28_CA: Seg[] = [
  [[-8.6, 47.5], [-8.55, 45]],
  [[10.3, 47], [10.35, 46]],
  [[19.8, 36], [20.2, 35], [20.5, 33]],
];
const G29_CA: Seg[] = [
  [[-7.4, 50], [-7.35, 42]],
  [[4.7, 35.5], [4.75, 34.5]],
  [[6.8, 49], [6.85, 38]],
  [[8.1, 48], [8.4, 49], [8.7, 44], [8.85, 35], [8.9, 10]],
  [[16.5, 42], [16.8, 48], [17.4, 53], [18.0, 56], [21.4, 56], [22.1, 52], [22.7, 47], [23.1, 40], [23.3, 28]],
  [[32.0, 42], [32.2, 48], [32.5, 49], [32.8, 44], [33.0, 10]],
  [[33.9, 39], [33.95, 37.5]],
  [[54.9, 41], [54.95, 37.5]],
  [[56.2, 47], [56.3, 40]],
];
const G30_CA: Seg[] = [
  [[-6.5, 40], [-6.45, 38.5]],
  [[-0.3, 45], [-0.25, 41]],
  [[3.7, 41], [4.2, 39], [4.8, 36], [5.3, 33], [5.7, 30]],
  [[7.8, 44], [7.85, 41]],
  [[18.2, 39], [18.8, 38], [19.4, 36], [19.9, 34]],
  [[23.2, 44], [23.6, 47], [24.0, 45], [24.2, 40]],
  [[30.4, 38.5], [30.45, 37]],
  [[31.6, 42], [31.9, 48], [32.4, 53], [33.2, 55], [34.5, 56], [36.3, 56], [37.5, 54]],
  [[55.9, 47], [55.95, 41]],
];
const G30_L5: Seg[] = [
  [[-0.3, 33], [-0.1, 35], [0.1, 32], [0.2, 10]],
  [[23.2, 30], [23.6, 34], [24.0, 35], [24.1, 10]],
  [[31.5, 10], [31.6, 30], [32.0, 35], [32.4, 38], [33.0, 41], [33.5, 42], [34.5, 41], [35.5, 38], [36.3, 34]],
  [[37.5, 35], [37.9, 33], [38.2, 10]],
  [[47.1, 10], [47.2, 34], [47.6, 35], [48.0, 30], [48.05, 10]],
  [[56.0, 34], [56.3, 35], [56.4, 10]],
];
const G31_CA: Seg[] = [
  [[-6.9, 46], [-6.5, 51], [-5.8, 54], [-5.2, 56], [-3.8, 55], [-3.1, 51], [-2.7, 45], [-2.5, 22]],
  [[3.0, 45], [3.3, 51], [3.9, 55], [4.4, 56], [6.1, 56], [6.8, 52], [7.3, 47], [7.8, 42], [8.0, 10]],
  [[32.4, 40.5], [32.45, 39]],
  [[34.9, 40.3], [34.95, 39.5]],
  [[56.4, 37], [56.5, 35.5]],
];
const G32_CA: Seg[] = [
  [[-8.6, 49], [-8.55, 45]],
  [[8.6, 40.5], [8.65, 10]],
  [[10.9, 40], [10.95, 36.5]],
  [[24.5, 47], [24.8, 52], [25.4, 55], [26.0, 56], [27.6, 56], [28.4, 53], [29.0, 48], [29.4, 43], [29.7, 30]],
];
const G32_L5: Seg[] = [
  [[-8.6, 33], [-8.3, 38], [-7.8, 40], [-7.2, 39], [-6.6, 37], [-6.2, 35], [-5.9, 17]],
  [[24.5, 31], [24.9, 38], [25.5, 42], [26.3, 45], [27.0, 47], [27.8, 45], [28.6, 41], [29.2, 36], [29.6, 30], [29.7, 10]],
];

type PlotDef = { title: string; series: [string, Seg[]][] };
const OF = (n: number, l1: Seg[], l2: Seg[]): PlotDef => ({ title: `L1OF/L2OF #${n}`, series: [['L1OF', l1], ['L2OF', l2]] });
const CA = (n: number, ca: Seg[]): PlotDef => ({ title: `L1CA #${n}`, series: [['L1CA', ca]] });
const C5 = (n: number, ca: Seg[], l5: Seg[]): PlotDef => ({ title: `L1CA/L5 #${n}`, series: [['L1CA', ca], ['L5', l5]] });

const PLOTS: PlotDef[] = [
  OF(1, R1_L1, R1_L2), OF(2, R2_L1, R2_L2), OF(3, R3_L1, R3_L2), OF(4, R4_L1, R4_L2),
  OF(5, R5_L1, R5_L2), { title: 'L1OF #6', series: [['L1OF', R6_L1]] }, OF(7, R7_L1, R7_L2),
  { title: 'L2OF #8', series: [['L2OF', R8_L2]] },
  OF(9, R9_L1, R9_L2), OF(10, R10_L1, R10_L2), OF(11, R11_L1, R11_L2), OF(12, R12_L1, R12_L2),
  OF(13, R13_L1, R13_L2), OF(14, R14_L1, R14_L2), OF(15, R15_L1, R15_L2), OF(16, R16_L1, R16_L2),
  OF(17, R17_L1, R17_L2), OF(18, R18_L1, R18_L2), OF(19, R19_L1, R19_L2), OF(20, R20_L1, R20_L2),
  OF(21, R21_L1, R21_L2), OF(22, R22_L1, R22_L2), OF(23, R23_L1, R23_L2),
  { title: 'L1OF #24', series: [['L1OF', R24_L1]] },
  OF(26, R26_L1, R26_L2), C5(1, G1_CA, G1_L5), CA(2, G2_CA), C5(3, G3_CA, G3_L5),
  C5(4, G4_CA, G4_L5), CA(5, G5_CA), C5(6, G6_CA, G6_L5), CA(7, G7_CA),
  C5(8, G8_CA, G8_L5), C5(9, G9_CA, G9_L5), C5(10, G10_CA, G10_L5), CA(11, G11_CA),
  CA(12, G12_CA), CA(13, G13_CA), CA(14, G14_CA), CA(15, G15_CA),
  CA(16, G16_CA), CA(17, G17_CA), CA(18, G18_CA), CA(19, G19_CA),
  CA(20, G20_CA), CA(21, G21_CA), CA(22, G22_CA), CA(23, G23_CA),
  C5(24, G24_CA, G24_L5), C5(25, G25_CA, G25_L5), C5(26, G26_CA, G26_L5), C5(27, G27_CA, G27_L5),
  CA(28, G28_CA), CA(29, G29_CA), C5(30, G30_CA, G30_L5), CA(31, G31_CA),
  C5(32, G32_CA, G32_L5),
];

// ---------- styling / layout ----------
const COLORS: Record<string, string> = { L1OF: '#0072BD', L2OF: '#D95319', L1CA: '#A2142F', L5: '#008000' };
const FONT = 'DejaVu Sans';
const AX = '#262626';
const CW = 3440;
const CH = 1286;
const LEFT0 = 448;
const PITCH_X = 342.7;
const GW = 260;
const TOP0 = 96.3;
const PITCH_Y = 136;
const GH = 97;
const SPARSE_ROWS = [1, 6];

const GAP: any = [NaN, NaN];
function splitSegs(segs: Seg[]) {
  const thick: any[] = [];
  const thin: any[] = [];
  for (const seg of segs) {
    for (let i = 0; i < seg.length - 1; i++) {
      const a = seg[i];
      const b = seg[i + 1];
      const target = a[1] < Y_MIN || b[1] < Y_MIN ? thin : thick;
      const last = target[target.length - 1];
      if (last && last[0] === a[0] && last[1] === a[1]) target.push(b);
      else {
        if (target.length) target.push(GAP);
        target.push(a, b);
      }
    }
  }
  return { thick, thin };
}

function buildOption() {
  const grid: any[] = [];
  const xAxis: any[] = [];
  const yAxis: any[] = [];
  const series: any[] = [];
  const title: any[] = [];
  const legend: any[] = [];
  const noLine = { show: false, onZero: false };
  PLOTS.forEach((p, i) => {
    const r = Math.floor(i / 8);
    const c = i % 8;
    const left = LEFT0 + PITCH_X * c;
    const top = TOP0 + PITCH_Y * r;
    const yt = SPARSE_ROWS.includes(r) ? Y_TICKS_B : Y_TICKS_A;
    grid.push({ left, top, width: GW, height: GH, show: true, borderColor: AX, borderWidth: 1, backgroundColor: '#fff' });
    const tick = (vals: number[]) => ({ show: true, inside: true, length: 3, lineStyle: { color: AX, width: 1 }, customValues: vals });
    xAxis.push({
      type: 'value', gridIndex: i, min: X_MIN, max: X_MAX, position: 'bottom',
      axisLine: noLine, splitLine: { show: false }, axisTick: tick(X_TICKS),
      axisLabel: {
        customValues: X_TICKS, formatter: (v: number) => X_LABELS[X_TICKS.indexOf(v)] ?? '',
        fontSize: 14.5, color: AX, fontFamily: FONT, margin: 8,
      },
    });
    xAxis.push({
      type: 'value', gridIndex: i, min: X_MIN, max: X_MAX, position: 'top',
      axisLine: noLine, splitLine: { show: false }, axisTick: tick(X_TICKS), axisLabel: { show: false },
    });
    yAxis.push({
      type: 'value', gridIndex: i, min: Y_MIN, max: Y_MAX, position: 'left',
      axisLine: noLine, splitLine: { show: false }, axisTick: tick(yt),
      axisLabel: { customValues: yt, fontSize: 14.5, color: AX, fontFamily: FONT, margin: 6 },
      name: 'q, dBHz', nameLocation: 'middle', nameGap: 32, nameRotate: 90,
      nameTextStyle: { fontSize: 16, color: AX, fontFamily: FONT },
    });
    yAxis.push({
      type: 'value', gridIndex: i, min: Y_MIN, max: Y_MAX, position: 'right',
      axisLine: noLine, splitLine: { show: false }, axisTick: tick(yt), axisLabel: { show: false },
    });
    title.push({
      text: p.title, left: left + GW / 2, top: top - 23, textAlign: 'center', padding: 0,
      textStyle: { fontSize: 16.5, fontWeight: 'normal', color: '#000', fontFamily: FONT },
    });
    legend.push({
      data: p.series.map((s) => s[0]), orient: 'vertical',
      right: CW - (left + GW) + 15.5, top: top + 15.5,
      itemWidth: 28, itemHeight: 1.6, itemGap: 1, icon: 'rect',
      padding: [2, 4, 2, 5], borderColor: AX, borderWidth: 1, borderRadius: 0, backgroundColor: '#fff',
      selectedMode: false,
      textStyle: { fontSize: 13.5, color: '#000', fontFamily: FONT, lineHeight: 16 },
    });
    p.series.forEach(([name, segs]) => {
      const { thick, thin } = splitSegs(segs);
      const color = COLORS[name];
      const base = {
        type: 'line', name, xAxisIndex: 2 * i, yAxisIndex: 2 * i, showSymbol: false, symbol: 'none',
        connectNulls: false, clip: true, silent: true, itemStyle: { color },
      };
      series.push({ ...base, data: thick, lineStyle: { width: 3, color } });
      series.push({ ...base, data: thin, lineStyle: { width: 1.2, color, opacity: 0.85 } });
    });
  });
  return { animation: false, backgroundColor: '#fff', grid, xAxis, yAxis, series, title, legend };
}

export default function App() {
  const ref = useRef<HTMLDivElement>(null);
  useEffect(() => {
    const chart = echarts.init(ref.current!, null, { renderer: 'svg', width: CW, height: CH });
    chart.setOption(buildOption() as any);
    return () => chart.dispose();
  }, []);
  return (
    <div
      ref={ref}
      style={{ position: 'fixed', left: 0, top: 0, width: CW + 'px', height: CH + 'px', background: '#fff' }}
    />
  );
}
